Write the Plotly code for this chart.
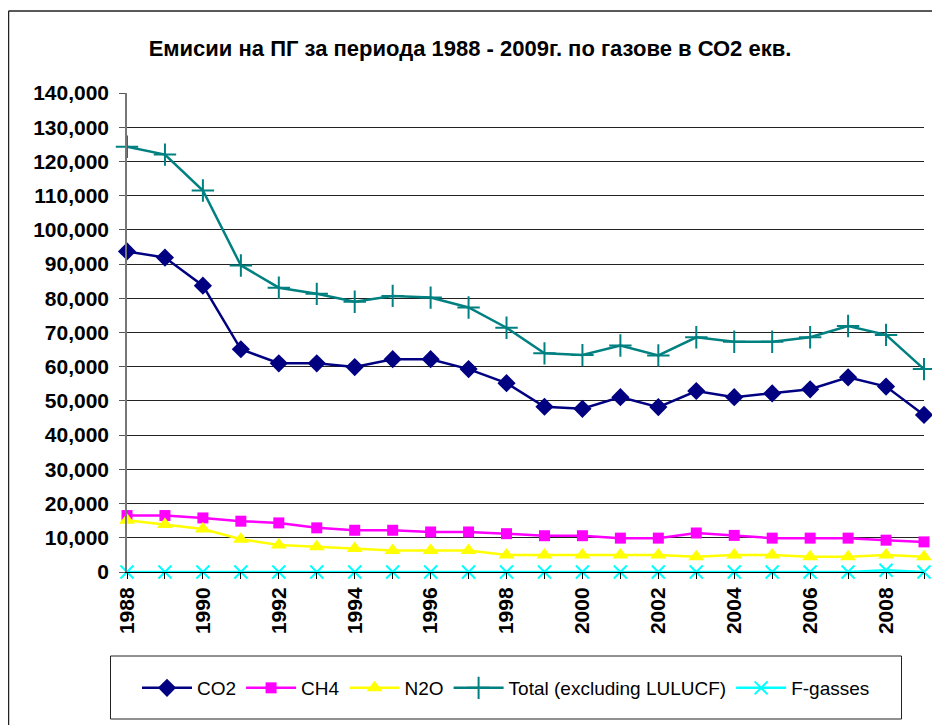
import plotly.graph_objects as go

years = list(range(1988, 2010))
co2 = [93700, 91900, 83700, 65100, 61000, 61000, 59900, 62200, 62200, 59300, 55200, 48300,
       47700, 51100, 48200, 52900, 51100, 52200, 53400, 56900, 54200, 45900]
ch4 = [16500, 16500, 15800, 14850, 14350, 12900, 12200, 12200, 11700, 11700, 11200, 10600,
       10600, 9900, 9900, 11400, 10700, 9900, 9900, 9900, 9300, 8800]
n2o = [15150, 13850, 12550, 9600, 7900, 7400, 6900, 6250, 6250, 6250, 4950, 4950,
       4950, 4950, 4950, 4450, 4950, 4950, 4450, 4450, 4950, 4450]
total = [124300, 122000, 111500, 89600, 83100, 81300, 79000, 80700, 80200, 77300, 71400, 63900,
         63400, 66200, 63300, 68600, 67300, 67300, 68600, 71900, 69300, 59300]
fgas = [0, 0, 0, 0, 0, 0, 0, 0, 0, 0, 0, 0, 0, 0, 0, 0, 0, 0, 0, 0, 500, 0]

title_text = "Емисии на ПГ за периода 1988 - 2009г. по газове в СО2 екв."
series_names = ["CO2", "CH4", "N2O", "Total (excluding LULUCF)", "F-gasses"]
tick_years = [y for y in years]
tick_labels = [str(y) if y % 2 == 0 else "" for y in years]

# page body has an 8px offset; compensate in layout
OFF = 8
L, T, R, B = 127 - OFF, 93 - OFF, 924 - OFF, 572 - OFF
W, H = 940, 725

fig = go.Figure()
specs = [
    (co2, "#000080", "diamond", 14, 0),
    (ch4, "#FF00FF", "square", 11, 0),
    (n2o, "#FFFF00", "triangle-up", 14, 0),
    (total, "#008080", "cross-thin", 16, 2),
    (fgas, "#00FFFF", "x-thin", 13, 2),
]
for name, (vals, col, sym, sz, lw) in zip(series_names, specs):
    marker = dict(symbol=sym, size=sz, color=col)
    if lw:
        marker["line"] = dict(color=col, width=lw)
    fig.add_trace(go.Scatter(x=years, y=vals, name=name, mode="lines+markers",
                             line=dict(color=col, width=2.5), marker=marker,
                             cliponaxis=False))

fig.update_layout(
    width=W, height=H,
    margin=dict(l=L, r=W - R, t=T, b=H - B),
    paper_bgcolor="white", plot_bgcolor="white",
    font=dict(family="Liberation Sans, Arial", color="black"),
    title=dict(text="<b>" + title_text + "</b>", x=(470 - OFF) / W, xanchor="center",
               y=1 - (48 - OFF) / H, yanchor="middle",
               font=dict(size=22, family="Liberation Sans, Arial")),
    showlegend=True,
    legend=dict(orientation="h", x=(506 - OFF - L) / (R - L), xanchor="center",
                y=(B - (688 - OFF)) / (B - T), yanchor="middle",
                font=dict(size=19), bgcolor="rgba(0,0,0,0)", borderwidth=0,
                itemwidth=50, tracegroupgap=0),
)
fig.update_xaxes(range=[1988, 2009], tickvals=tick_years,
                 ticktext=["<b>" + t + "</b>" if t else "" for t in tick_labels],
                 tickangle=-90, ticks="outside", ticklen=6, tickcolor="black",
                 tickfont=dict(size=21, family="Liberation Sans, Arial"),
                 showgrid=False, zeroline=False, showline=True, linecolor="black",
                 linewidth=1)
fig.update_yaxes(range=[0, 140000], dtick=10000, tickformat=",d",
                 tickprefix="<b>", ticksuffix="</b>",
                 ticks="outside", ticklen=6, tickcolor="#555",
                 ticklabelstandoff=6,
                 tickfont=dict(size=21, family="Liberation Sans, Arial"),
                 showgrid=True, gridcolor="#222", gridwidth=1,
                 zeroline=False, showline=True, linecolor="#777", linewidth=1.5)

pw, ph = R - L, B - T
def px(x):
    return (x - OFF - L) / pw
def py(y):
    return (B - (y - OFF)) / ph

# outer frame
fig.add_shape(type="line", xref="paper", yref="paper", x0=px(8.5), x1=px(960), y0=py(11), y1=py(11),
              line=dict(color="#222", width=1.5))
fig.add_shape(type="line", xref="paper", yref="paper", x0=px(8.5), x1=px(8.5), y0=py(11), y1=py(760),
              line=dict(color="#222", width=1.5))
# legend box
fig.add_shape(type="rect", xref="paper", yref="paper", x0=px(110.5), x1=px(901.5), y0=py(656), y1=py(719),
              line=dict(color="#222", width=1), fillcolor="rgba(0,0,0,0)")

fig.write_html("out.html")
